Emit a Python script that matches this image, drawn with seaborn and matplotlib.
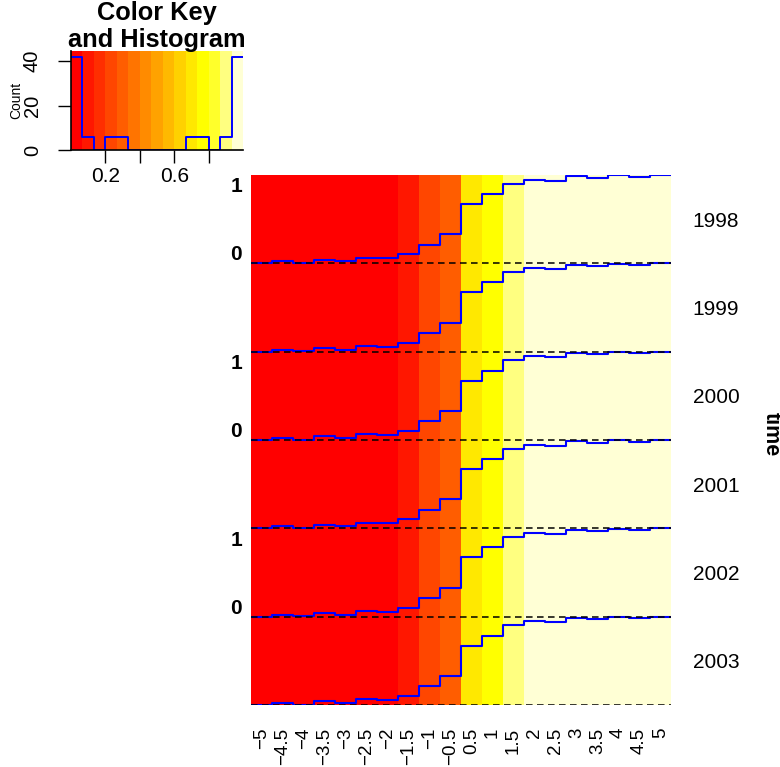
import numpy as np
import pandas as pd
import matplotlib
matplotlib.use("Agg")
import matplotlib.pyplot as plt
from matplotlib.colors import ListedColormap, BoundaryNorm
import seaborn as sns

sns.set_theme(style="white")
plt.rcParams["font.family"] = ["Liberation Sans", "DejaVu Sans"]

# ---- data -------------------------------------------------------------
years = ["1998", "1999", "2000", "2001", "2002", "2003"]
x_labels = ["\u22125", "\u22124.5", "\u22124", "\u22123.5", "\u22123", "\u22122.5",
            "\u22122", "\u22121.5", "\u22121", "\u22120.5", "0.5", "1", "1.5",
            "2", "2.5", "3", "3.5", "4", "4.5", "5"]
# cumulative share at each grid point (identical profile for every year)
share = [0.000, 0.022, 0.005, 0.041, 0.022, 0.064, 0.056, 0.101, 0.213, 0.330,
         0.670, 0.785, 0.903, 0.948, 0.937, 0.985, 0.970, 0.996, 0.981, 1.000]
# heat.colors(15)
heat_colors = ["#FF0000", "#FF1700", "#FF2E00", "#FF4600", "#FF5D00",
               "#FF7400", "#FF8B00", "#FFA200", "#FFB900", "#FFD100",
               "#FFE800", "#FFFF00", "#FFFF2B", "#FFFF80", "#FFFFD5"]
key_ticks = [0.2, 0.4, 0.6, 0.8]
key_tick_labels = ["0.2", "", "0.6", ""]
count_ticks = [0, 20, 40]

mat = pd.DataFrame([share for _ in years], index=years, columns=x_labels)
values = mat.to_numpy()
n_rows, n_cols = values.shape
breaks = np.linspace(values.min(), values.max(), len(heat_colors) + 1)
cmap = ListedColormap(heat_colors)
norm = BoundaryNorm(breaks, ncolors=len(heat_colors), clip=True)

# ---- figure -----------------------------------------------------------
W, H = 780, 767
fig = plt.figure(figsize=(W / 100, H / 100), dpi=100)


def px_axes(left, top, right, bottom):
    return fig.add_axes([left / W, 1 - bottom / H, (right - left) / W, (bottom - top) / H])


# main heatmap
ax = px_axes(251, 175, 671, 705)
sns.heatmap(mat, ax=ax, cmap=cmap, norm=norm, cbar=False,
            xticklabels=True, yticklabels=True)

xs = np.arange(n_cols + 1)
for i in range(n_rows):
    row = values[i]
    ys = i + 1 - np.append(row, row[-1])
    ax.plot(xs, ys, drawstyle="steps-post", color="#0000FF", lw=1.5, zorder=3)
    ax.hlines(i + 1, 0, n_cols, colors="black", linestyles=(0, (4.3, 2.9)),
              lw=1.1, zorder=4)

# scale marks on alternate rows
for i in range(0, n_rows, 2):
    ax.text(-0.43, i + 0.135, "1", ha="right", va="center", fontsize=15,
            fontweight="bold", color="black")
    ax.text(-0.43, i + 0.905, "0", ha="right", va="center", fontsize=15,
            fontweight="bold", color="black")

ax.set_xticks(np.arange(n_cols) + 0.5)
ax.set_xticklabels(x_labels, rotation=90, fontsize=13.5, color="black")
ax.tick_params(axis="x", length=0, pad=16.5)
ax.yaxis.tick_right()
ax.set_yticks(np.arange(n_rows) + 0.5)
ax.set_yticklabels(years, rotation=0, fontsize=15, color="black")
ax.tick_params(axis="y", length=0, pad=15.5)
ax.set_xlabel("")
ax.set_ylabel("")

fig.text(771 / W, 1 - 434 / H, "time", rotation=-90, ha="center", va="center",
         fontsize=15.5, fontweight="bold", color="black")

# color key with histogram
kax = px_axes(71, 51, 243.3, 150)
ytop = 44.55
kax.pcolormesh(breaks, [0, ytop], np.arange(len(heat_colors))[None, :],
               cmap=cmap, vmin=-0.5, vmax=len(heat_colors) - 0.5, shading="flat")
counts, _ = np.histogram(values.ravel(), bins=breaks)
kax.plot(breaks, np.append(counts, counts[-1]), drawstyle="steps-post",
         color="#0000FF", lw=1.4)
kax.set_xlim(breaks[0], breaks[-1])
kax.set_ylim(0, ytop)
for side in ["top", "right"]:
    kax.spines[side].set_visible(False)
for side in ["left", "bottom"]:
    kax.spines[side].set_visible(True)
    kax.spines[side].set_color("black")
    kax.spines[side].set_linewidth(1.2)
kax.set_xticks(key_ticks)
kax.set_xticklabels(key_tick_labels, fontsize=15, color="black")
kax.set_yticks(count_ticks)
kax.set_yticklabels([str(c) for c in count_ticks], fontsize=14.5, color="black",
                    rotation=90, va="center")
kax.tick_params(axis="x", bottom=True, length=9.4, width=1, pad=2.5, color="black")
kax.tick_params(axis="y", left=True, length=9.4, width=1, pad=11.5, color="black")
kax.grid(False)

fig.text(16 / W, 1 - 100 / H, "Count", rotation=90, ha="center", va="center",
         fontsize=10, color="black")
fig.text(157 / W, 1 - 20 / H, "Color Key", ha="center", va="baseline",
         fontsize=18.3, fontweight="bold", color="black")
fig.text(157 / W, 1 - 46.7 / H, "and Histogram", ha="center", va="baseline",
         fontsize=18.3, fontweight="bold", color="black")

fig.savefig("out.png", dpi=100, facecolor="white")
